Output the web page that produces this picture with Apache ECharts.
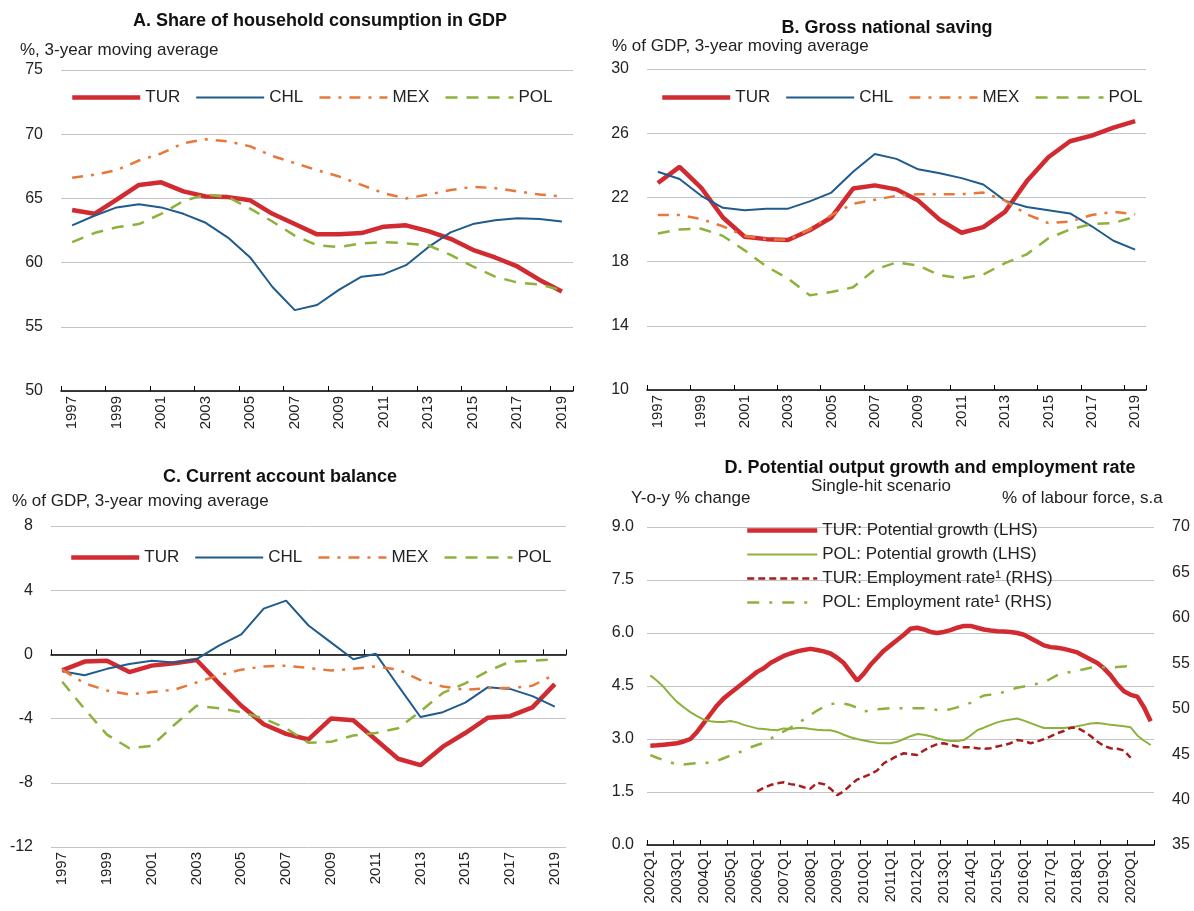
<!DOCTYPE html>
<html>
<head>
<meta charset="utf-8">
<script src="https://cdn.jsdelivr.net/npm/echarts@6/dist/echarts.min.js"></script>
<style>
html,body{margin:0;padding:0;background:#fff;}
#wrap{position:relative;width:1194px;height:911px;}
.p{position:absolute;width:597px;height:456px;}
</style>
</head>
<body>
<div id="wrap">
  <div class="p" id="pa" style="left:0;top:0"></div>
  <div class="p" id="pb" style="left:597px;top:0"></div>
  <div class="p" id="pc" style="left:0;top:455px"></div>
  <div class="p" id="pd" style="left:597px;top:455px"></div>
</div>
<script>
// ---------- DATA ----------
const years = ['1997','1998','1999','2000','2001','2002','2003','2004','2005','2006','2007','2008','2009','2010','2011','2012','2013','2014','2015','2016','2017','2018','2019'];

// Panel A: share of household consumption in GDP
const aTUR = [64.1,63.8,64.9,66.05,66.25,65.55,65.15,65.1,64.85,63.8,63.0,62.2,62.2,62.3,62.8,62.9,62.45,61.85,61.0,60.4,59.7,58.65,57.75];
const aCHL = [62.9,63.65,64.3,64.55,64.3,63.8,63.1,61.95,60.4,58.1,56.3,56.7,57.9,58.9,59.1,59.8,61.2,62.35,63.0,63.3,63.45,63.4,63.2];
const aMEX = [66.6,66.85,67.2,67.95,68.5,69.3,69.6,69.45,69.05,68.3,67.75,67.2,66.7,66.05,65.4,65.0,65.3,65.65,65.9,65.8,65.55,65.3,65.15];
const aPOL = [61.6,62.3,62.75,63.0,63.8,64.8,65.3,65.1,64.2,63.2,62.1,61.35,61.2,61.5,61.6,61.5,61.35,60.6,59.7,58.9,58.45,58.3,57.85];

// Panel B: gross national saving
const bTUR = [22.9,23.9,22.6,20.75,19.55,19.4,19.35,19.95,20.75,22.55,22.75,22.5,21.8,20.6,19.8,20.15,21.1,23.0,24.5,25.5,25.85,26.35,26.75];
const bCHL = [23.6,23.15,22.1,21.35,21.2,21.3,21.3,21.75,22.3,23.6,24.7,24.4,23.75,23.5,23.2,22.8,21.8,21.4,21.2,21.0,20.2,19.3,18.75];
const bMEX = [20.9,20.9,20.65,20.2,19.6,19.4,19.35,20.0,20.9,21.6,21.85,22.1,22.2,22.2,22.2,22.3,21.8,20.95,20.4,20.5,20.9,21.1,20.95];
const bPOL = [19.75,20.0,20.05,19.6,18.7,17.7,16.95,15.9,16.1,16.4,17.5,17.95,17.75,17.15,16.95,17.2,17.9,18.45,19.45,20.0,20.35,20.4,20.8];

// Panel C: current account balance
const cTUR = [-1.0,-0.45,-0.4,-1.1,-0.7,-0.55,-0.35,-1.8,-3.2,-4.35,-4.95,-5.3,-4.0,-4.1,-5.3,-6.5,-6.9,-5.75,-4.9,-3.95,-3.85,-3.3,-1.85];
const cCHL = [-1.05,-1.3,-0.9,-0.6,-0.4,-0.5,-0.3,0.55,1.25,2.85,3.35,1.8,0.75,-0.3,0.05,-1.95,-3.9,-3.6,-3.0,-2.05,-2.15,-2.6,-3.25];
const cMEX = [-0.95,-1.8,-2.25,-2.5,-2.35,-2.2,-1.75,-1.3,-0.95,-0.75,-0.7,-0.85,-1.0,-0.9,-0.75,-0.95,-1.6,-2.0,-2.2,-2.1,-2.1,-1.95,-1.25];
const cPOL = [-1.7,-3.4,-5.0,-5.85,-5.7,-4.4,-3.2,-3.35,-3.6,-4.0,-4.6,-5.5,-5.45,-5.05,-4.9,-4.6,-3.55,-2.4,-1.8,-1.05,-0.45,-0.4,-0.3];

// Panel D: potential output growth and employment rate (quarterly)
const quarters = [
'2002Q1','2002Q2','2002Q3','2002Q4','2003Q1','2003Q2','2003Q3','2003Q4',
'2004Q1','2004Q2','2004Q3','2004Q4','2005Q1','2005Q2','2005Q3','2005Q4',
'2006Q1','2006Q2','2006Q3','2006Q4','2007Q1','2007Q2','2007Q3','2007Q4',
'2008Q1','2008Q2','2008Q3','2008Q4','2009Q1','2009Q2','2009Q3','2009Q4',
'2010Q1','2010Q2','2010Q3','2010Q4','2011Q1','2011Q2','2011Q3','2011Q4',
'2012Q1','2012Q2','2012Q3','2012Q4','2013Q1','2013Q2','2013Q3','2013Q4',
'2014Q1','2014Q2','2014Q3','2014Q4','2015Q1','2015Q2','2015Q3','2015Q4',
'2016Q1','2016Q2','2016Q3','2016Q4','2017Q1','2017Q2','2017Q3','2017Q4',
'2018Q1','2018Q2','2018Q3','2018Q4','2019Q1','2019Q2','2019Q3','2019Q4',
'2020Q1','2020Q2','2020Q3','2020Q4'];
const dTURpot = [2.81,2.82,2.84,2.86, 2.88,2.93,3.0,3.2, 3.45,3.7,3.95,4.15, 4.3,4.45,4.6,4.75,
  4.9,5.0,5.15,5.25, 5.35,5.42,5.48,5.52, 5.55,5.52,5.48,5.42, 5.3,5.15,4.9,4.65,
  4.85,5.1,5.3,5.5, 5.65,5.8,5.95,6.12, 6.15,6.1,6.03,6.0, 6.03,6.08,6.15,6.2,
  6.2,6.15,6.1,6.07, 6.05,6.04,6.03,6.0, 5.95,5.85,5.75,5.65, 5.6,5.58,5.55,5.5,
  5.45,5.35,5.25,5.15, 5.0,4.8,4.55,4.35, 4.25,4.2,3.9,3.5];
const dPOLpot = [4.8,4.65,4.47,4.25, 4.05,3.9,3.76,3.65, 3.55,3.5,3.48,3.48, 3.51,3.47,3.4,3.35,
  3.3,3.28,3.26,3.25, 3.3,3.28,3.31,3.31, 3.28,3.26,3.25,3.25, 3.2,3.12,3.05,3.0,
  2.96,2.92,2.89,2.88, 2.88,2.92,3.0,3.08, 3.14,3.12,3.08,3.02, 2.97,2.94,2.94,2.97,
  3.1,3.25,3.32,3.4, 3.47,3.52,3.55,3.58, 3.52,3.45,3.38,3.31, 3.31,3.31,3.31,3.33,
  3.36,3.4,3.44,3.45, 3.43,3.4,3.38,3.36, 3.33,3.1,2.95,2.83];
const dTURemp = [null,null,null,null, null,null,null,null, null,null,null,null, null,null,null,null,
  40.9,41.3,41.6,41.8, 41.9,41.7,41.6,41.35, 41.2,41.85,41.7,41.2, 40.5,40.9,41.6,42.2,
  42.5,42.8,43.2,44.0, 44.4,44.8,45.1,45.0, 44.9,45.4,45.8,46.1, 46.2,46.0,45.85,45.75,
  45.75,45.65,45.6,45.65, 45.85,46.0,46.2,46.55, 46.45,46.2,46.4,46.65, 46.95,47.3,47.55,47.9,
  47.9,47.5,47.0,46.4, 45.9,45.65,45.6,45.4, 44.6,null,null,null];
const dPOLemp = [44.9,44.6,44.35,44.1, 43.85,43.85,43.95,44.0, 44.0,44.1,44.25,44.55, 44.85,45.1,45.4,45.75,
  46.0,46.25,46.7,47.1, 47.5,47.9,48.4,48.8, 49.3,49.8,50.2,50.5, 50.6,50.55,50.4,50.1,
  49.7,49.8,49.95,50.0, 50.05,50.05,50.05,50.05, 50.05,50.05,50.0,49.85, 49.8,49.95,50.15,50.4,
  50.65,51.1,51.45,51.55, 51.6,51.85,52.1,52.3, 52.45,52.6,52.75,52.9, 53.3,53.7,53.9,54.05,
  54.2,54.35,54.5,54.6, 54.55,54.5,54.6,54.65, 54.7,null,null,null];

// ---------- STYLE ----------
const FONT = "'Liberation Sans', Arial, sans-serif";
const TXT = '#222';
const GRIDC = '#c4c4c4';
const C_TUR = '#d12a30', C_CHL = '#1f5b8c', C_MEX = '#e8783a', C_POL = '#8db13c', C_TURE = '#a81c1c';

function lineSeries(name, data, color, width, type, extra) {
  return Object.assign({
    name: name, type: 'line', data: data, symbol: 'none', smooth: false,
    lineStyle: {color: color, width: width, type: type || 'solid'},
    itemStyle: {color: color}, emphasis: {disabled: true}, animation: false
  }, extra || {});
}

function fourSeries(t, c, m, p) {
  return [
    lineSeries('TUR', t, C_TUR, 4.5),
    lineSeries('CHL', c, C_CHL, 2),
    lineSeries('MEX', m, C_MEX, 2.5, [11, 8, 3, 8]),
    lineSeries('POL', p, C_POL, 2.5, [12, 9])
  ];
}

function legendTop(left, top) {
  return {
    left: left, top: top, padding: 0, itemWidth: 68, itemHeight: 14, itemGap: 15,
    itemStyle: {opacity: 0},
    lineStyle: {width: 'inherit'},
    textStyle: {fontFamily: FONT, fontSize: 17, color: TXT},
    data: ['TUR', 'CHL', 'MEX', 'POL'], selectedMode: false
  };
}

function catAxis(cats, interval, extra) {
  return Object.assign({
    type: 'category', data: cats, boundaryGap: true,
    axisLine: {show: true, onZero: false, lineStyle: {color: '#000', width: 1.5}},
    axisTick: {show: true, inside: true, length: 5, interval: interval, lineStyle: {color: '#000', width: 1}},
    axisLabel: {interval: interval, rotate: 90, fontFamily: FONT, fontSize: 15, color: TXT, margin: 5},
    splitLine: {show: false}
  }, extra || {});
}

function valAxis(min, max, step, extra) {
  return Object.assign({
    type: 'value', min: min, max: max, interval: step,
    axisLine: {show: false}, axisTick: {show: false},
    axisLabel: {fontFamily: FONT, fontSize: 16, color: TXT, margin: 18},
    splitLine: {show: true, lineStyle: {color: GRIDC, width: 1}}
  }, extra || {});
}

function titleBlock(text, x, y, sub, sx, sy) {
  return [
    {text: text, left: x, top: y, textAlign: 'center', padding: 0,
     textStyle: {fontFamily: FONT, fontSize: 18, fontWeight: 'bold', color: '#111'}},
    {text: sub, left: sx, top: sy, padding: 0,
     textStyle: {fontFamily: FONT, fontSize: 17, fontWeight: 'normal', color: TXT}}
  ];
}

// ---------- PANEL A ----------
const chA = echarts.init(document.getElementById('pa'), null, {renderer: 'canvas'});
chA.setOption({
  animation: false,
  title: titleBlock('A. Share of household consumption in GDP', 320, 12, '%, 3-year moving average', 20, 42),
  legend: legendTop(70, 89),
  grid: {left: 61, top: 70, width: 512, height: 321},
  xAxis: catAxis(years, 1),
  yAxis: valAxis(50, 75, 5),
  series: fourSeries(aTUR, aCHL, aMEX, aPOL)
});

// ---------- PANEL B ----------
const chB = echarts.init(document.getElementById('pb'), null, {renderer: 'canvas'});
chB.setOption({
  animation: false,
  title: titleBlock('B. Gross national saving', 290, 19, '% of GDP, 3-year moving average', 15, 38),
  legend: legendTop(63, 89),
  grid: {left: 50, top: 69, width: 499, height: 321},
  xAxis: catAxis(years, 1),
  yAxis: valAxis(10, 30, 4),
  series: fourSeries(bTUR, bCHL, bMEX, bPOL)
});

// ---------- PANEL C ----------
const chC = echarts.init(document.getElementById('pc'), null, {renderer: 'canvas'});
chC.setOption({
  animation: false,
  title: titleBlock('C. Current account balance', 280, 13, '% of GDP, 3-year moving average', 12, 38),
  legend: legendTop(69, 94),
  grid: [
    {left: 51, top: 71, width: 515, height: 321},
    {left: 51, top: 71, width: 515, height: 321}
  ],
  xAxis: [
    catAxis(years, 1, {gridIndex: 0, axisLine: {show: false, onZero: false}, axisTick: {show: false}}),
    catAxis(years, 1, {gridIndex: 1, axisLabel: {show: false},
      axisLine: {show: true, onZero: true, lineStyle: {color: '#000', width: 1.5}}})
  ],
  yAxis: [
    valAxis(-12, 8, 4, {gridIndex: 0}),
    {type: 'value', gridIndex: 1, min: -12, max: 8, interval: 4, show: false, splitLine: {show: false}}
  ],
  series: fourSeries(cTUR, cCHL, cMEX, cPOL)
});

// ---------- PANEL D ----------
const chD = echarts.init(document.getElementById('pd'), null, {renderer: 'canvas'});
chD.setOption({
  animation: false,
  title: [
    {text: 'D. Potential output growth and employment rate', left: 333, top: 4, textAlign: 'center', padding: 0,
     textStyle: {fontFamily: FONT, fontSize: 18, fontWeight: 'bold', color: '#111'}},
    {text: 'Single-hit scenario', left: 284, top: 23, textAlign: 'center', padding: 0,
     textStyle: {fontFamily: FONT, fontSize: 17, fontWeight: 'normal', color: TXT}},
    {text: 'Y-o-y % change', left: 34, top: 35, padding: 0,
     textStyle: {fontFamily: FONT, fontSize: 17, fontWeight: 'normal', color: TXT}},
    {text: '% of labour force, s.a', left: 405, top: 35, padding: 0,
     textStyle: {fontFamily: FONT, fontSize: 17, fontWeight: 'normal', color: TXT}}
  ],
  legend: {
    orient: 'vertical', left: 148, top: 66, padding: 0, itemWidth: 70, itemHeight: 14, itemGap: 5,
    itemStyle: {opacity: 0},
    lineStyle: {width: 'inherit'},
    textStyle: {fontFamily: FONT, fontSize: 17, color: TXT, lineHeight: 19},
    selectedMode: false,
    data: ['TUR: Potential growth (LHS)', 'POL: Potential growth (LHS)', 'TUR: Employment rate¹ (RHS)', 'POL: Employment rate¹ (RHS)']
  },
  grid: {left: 50, top: 72, width: 507, height: 318},
  xAxis: catAxis(quarters, 3),
  yAxis: [
    valAxis(0, 9, 1.5, {axisLabel: {fontFamily: FONT, fontSize: 16, color: TXT, margin: 13,
      formatter: function (v) { return v.toFixed(1); }}}),
    valAxis(35, 70, 5, {position: 'right', splitLine: {show: false},
      axisLabel: {fontFamily: FONT, fontSize: 16, color: TXT, margin: 18}})
  ],
  series: [
    lineSeries('TUR: Potential growth (LHS)', dTURpot, C_TUR, 4.5),
    lineSeries('POL: Potential growth (LHS)', dPOLpot, C_POL, 2),
    lineSeries('TUR: Employment rate¹ (RHS)', dTURemp, C_TURE, 2.5, [7, 4], {yAxisIndex: 1}),
    lineSeries('POL: Employment rate¹ (RHS)', dPOLemp, C_POL, 2.5, [12, 10, 3, 10], {yAxisIndex: 1})
  ]
});
</script>
</body>
</html>
